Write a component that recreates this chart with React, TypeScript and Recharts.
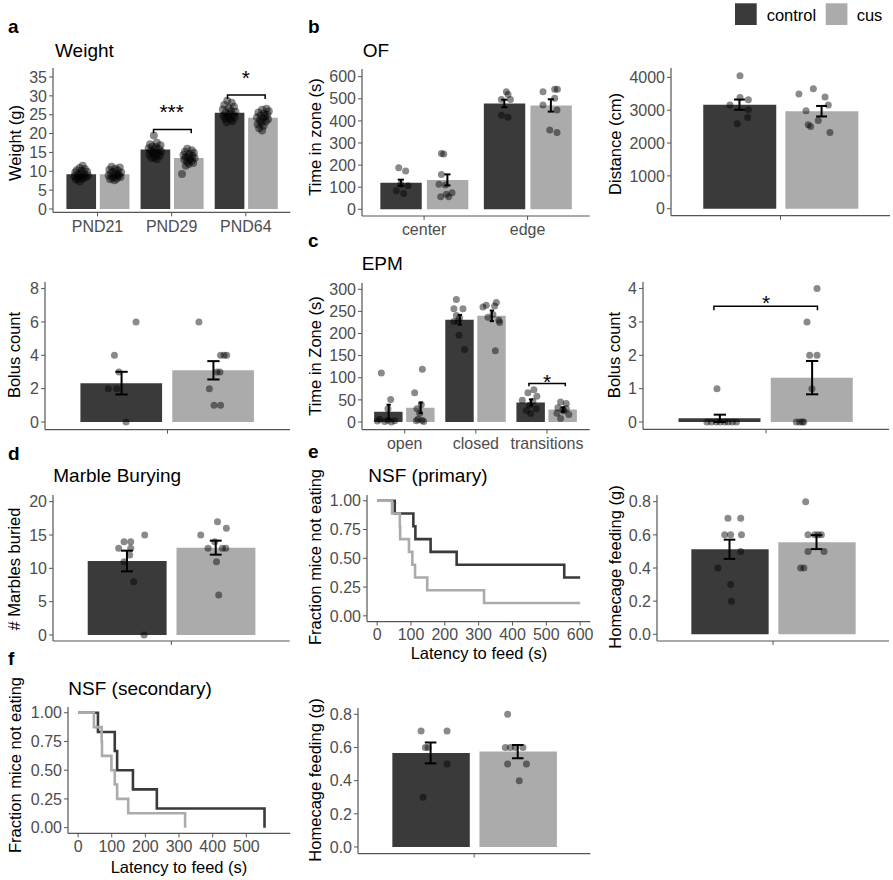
import React from "react";
import { ComposedChart, LineChart, Bar, Scatter, Line, XAxis, YAxis, ErrorBar } from "recharts";

const FONT = "'Liberation Sans', Arial, Helvetica, sans-serif";
const DARK = "#3a3a3a";
const LIGHT = "#ababab";
const AX = "#555555";
const TXT = "#4d4d4d";
const TICK_FS = 16;

type Pt = [number, number];

// a: weight
const weightCats = ["PND21", "PND29", "PND64"];
const weightCtrl = [9.2, 15.8, 25.5];
const weightCus = [9.2, 13.5, 24.2];
const weightTicks = [0, 5, 10, 15, 20, 25, 30, 35];
const weightCtrlDots: Pt[] = [
  [0.8, 11.5], [0.76, 10.9], [0.83, 10.6], [0.72, 10.3], [0.79, 10.1], [0.86, 9.9], [0.7, 9.7], [0.77, 9.5], [0.82, 9.3],
  [0.74, 9.1], [0.87, 8.9], [0.69, 8.7], [0.78, 8.6], [0.84, 8.4], [0.73, 8.2], [0.8, 8.0], [0.71, 7.8], [0.76, 7.3],
  [1.76, 19.5], [1.8, 17.6], [1.71, 17.2], [1.85, 16.9], [1.74, 16.6], [1.79, 16.4], [1.69, 16.1], [1.83, 15.9], [1.77, 15.7],
  [1.72, 15.4], [1.86, 15.2], [1.75, 15.0], [1.81, 14.7], [1.7, 14.4], [1.84, 14.1], [1.77, 13.8], [1.73, 13.5], [1.8, 13.2],
  [2.75, 28.7], [2.81, 28.2], [2.71, 27.6], [2.84, 27.1], [2.77, 26.7], [2.69, 26.4], [2.8, 26.1], [2.86, 25.8], [2.73, 25.6],
  [2.78, 25.3], [2.83, 25.0], [2.7, 24.8], [2.76, 24.6], [2.85, 24.3], [2.72, 24.0], [2.79, 23.7], [2.82, 23.3], [2.74, 23.0],
];
const weightCusDots: Pt[] = [
  [1.19, 11.2], [1.3, 11.0], [1.24, 10.7], [1.16, 10.4], [1.27, 10.2], [1.21, 9.9], [1.32, 9.7], [1.18, 9.5], [1.25, 9.3],
  [1.29, 9.1], [1.15, 8.9], [1.22, 8.7], [1.31, 8.5], [1.2, 8.3], [1.26, 8.1], [1.17, 7.9], [1.23, 7.6], [1.28, 8.8],
  [2.21, 16.0], [2.27, 15.6], [2.18, 15.2], [2.3, 14.9], [2.24, 14.6], [2.16, 14.3], [2.28, 14.1], [2.22, 13.9], [2.19, 13.7],
  [2.31, 13.5], [2.25, 13.3], [2.17, 13.1], [2.27, 12.8], [2.21, 12.5], [2.29, 12.2], [2.23, 11.9], [2.19, 11.5], [2.14, 9.3],
  [3.28, 26.6], [3.22, 26.3], [3.31, 25.9], [3.17, 25.6], [3.25, 25.3], [3.29, 25.0], [3.2, 24.8], [3.26, 24.5], [3.15, 24.3],
  [3.23, 24.1], [3.3, 23.8], [3.19, 23.5], [3.27, 23.2], [3.21, 22.9], [3.16, 22.5], [3.24, 22.1], [3.18, 21.4], [3.22, 20.8],
];

// a (lower): bolus count, open field
const bolusOfCtrl = [2.33];
const bolusOfCus = [3.1];
const bolusOfCtrlSE = [0.68];
const bolusOfCusSE = [0.55];
const bolusOfCtrlDots: Pt[] = [[0.846, 6], [0.74, 4], [0.762, 3], [0.71, 2], [0.751, 2], [0.797, 0]];
const bolusOfCusDots: Pt[] = [[1.154, 6], [1.26, 4], [1.29, 4], [1.277, 4], [1.242, 3], [1.257, 3], [1.205, 2], [1.228, 1], [1.26, 1]];

// b: open field
const ofCats = ["center", "edge"];
const ofCtrl = [120, 479];
const ofCus = [133, 470];
const ofCtrlSE = [14, 17];
const ofCusSE = [25, 28];
const ofCtrlDots: Pt[] = [
  [0.755, 188], [0.822, 173], [0.774, 113], [0.845, 107], [0.732, 84], [0.803, 72],
  [1.795, 532], [1.811, 520], [1.747, 497], [1.834, 497], [1.747, 426], [1.811, 416],
];
const ofCusDots: Pt[] = [
  [1.167, 253], [1.19, 250], [1.167, 158], [1.144, 113], [1.206, 110], [1.27, 75], [1.215, 68], [1.16, 57], [1.238, 57],
  [2.149, 532], [2.262, 543], [2.288, 543], [2.262, 502], [2.149, 472], [2.284, 449], [2.214, 359], [2.284, 348],
];
const distCtrl = [3170];
const distCus = [2970];
const distCtrlSE = [155];
const distCusSE = [160];
const distCtrlDots: Pt[] = [[0.778, 4051], [0.778, 3390], [0.824, 3320], [0.723, 3158], [0.824, 3015], [0.82, 2781], [0.763, 2589]];
const distCusDots: Pt[] = [
  [1.18, 3655], [1.101, 3493], [1.244, 3402], [1.262, 3158], [1.14, 2985], [1.152, 2558], [1.165, 2507], [1.207, 2690], [1.271, 2324],
];

// c: elevated plus maze
const epmCats = ["open", "closed", "transitions"];
const epmCtrl = [23, 231, 44];
const epmCus = [32, 240, 28];
const epmCtrlSE = [16, 11, 7];
const epmCusSE = [12, 12, 5];
const epmCtrlDots: Pt[] = [
  [0.672, 111], [0.803, 51], [0.765, 30], [0.649, 6], [0.765, 4], [0.859, 3], [0.616, 2], [0.719, 1], [0.813, 0],
  [1.726, 277], [1.692, 256], [1.819, 256], [1.726, 241], [1.772, 235], [1.749, 228], [1.692, 227], [1.763, 196], [1.842, 164],
  [2.816, 73], [2.732, 66], [2.858, 58], [2.653, 49], [2.802, 47], [2.755, 38], [2.849, 30], [2.709, 26], [2.77, 19],
];
const epmCusDots: Pt[] = [
  [1.248, 119], [1.14, 66], [1.234, 39], [1.172, 30], [1.21, 20], [1.187, 6], [1.243, 4], [1.164, 3], [1.267, 1],
  [2.147, 264], [2.288, 270], [2.264, 262], [2.1, 260], [2.24, 243], [2.17, 237], [2.324, 230], [2.334, 225], [2.274, 161],
  [3.191, 45], [3.271, 42], [3.153, 32], [3.271, 30], [3.223, 28], [3.237, 25], [3.139, 20], [3.307, 17], [3.191, 8],
];
const epmBolusCtrl = [0.11];
const epmBolusCus = [1.33];
const epmBolusCtrlSE = [0.11];
const epmBolusCusSE = [0.5];
const epmBolusCtrlDots: Pt[] = [[0.761, 1], [0.712, 0], [0.734, 0], [0.758, 0], [0.777, 0], [0.799, 0], [0.816, 0], [0.836, 0], [0.856, 0]];
const epmBolusCusDots: Pt[] = [[1.249, 4], [1.2, 3], [1.213, 2], [1.249, 2], [1.224, 1], [1.148, 0], [1.164, 0], [1.177, 0], [1.184, 0]];

// d: marble burying
const marbleCtrl = [11.1];
const marbleCus = [13.1];
const marbleCtrlSE = [1.55];
const marbleCusSE = [1.05];
const marbleCtrlDots: Pt[] = [[0.865, 15], [0.76, 14], [0.794, 14], [0.733, 13], [0.794, 13], [0.789, 12], [0.76, 11], [0.809, 8], [0.862, 0]];
const marbleCusDots: Pt[] = [[1.234, 17], [1.279, 16], [1.149, 15], [1.22, 14], [1.186, 13], [1.259, 13], [1.276, 13], [1.229, 11], [1.24, 6]];

// e / f: novelty suppressed feeding
const nsf1CtrlTime = [0, 52, 107, 113, 158, 235, 553, 600];
const nsf1CtrlSurv = [1, 0.889, 0.778, 0.667, 0.556, 0.444, 0.333, 0.333];
const nsf1CusTime = [0, 44, 67, 68, 94, 104, 112, 148, 316, 600];
const nsf1CusSurv = [1, 0.889, 0.778, 0.667, 0.556, 0.444, 0.333, 0.222, 0.111, 0.111];
const nsf2CtrlTime = [0, 59, 109, 116, 163, 234, 554];
const nsf2CtrlSurv = [1, 0.833, 0.667, 0.5, 0.333, 0.167, 0];
const nsf2CusTime = [0, 47, 70, 71, 99, 109, 116, 149, 318];
const nsf2CusSurv = [1, 0.875, 0.75, 0.625, 0.5, 0.375, 0.25, 0.125, 0];

const feed1Ctrl = [0.513];
const feed1Cus = [0.556];
const feed1CtrlSE = [0.058];
const feed1CusSE = [0.042];
const feed1CtrlDots: Pt[] = [[0.767, 0.7], [0.833, 0.7], [0.75, 0.6], [0.781, 0.6], [0.837, 0.6], [0.833, 0.5], [0.715, 0.4], [0.781, 0.3], [0.785, 0.2]];
const feed1CusDots: Pt[] = [[1.169, 0.8], [1.181, 0.6], [1.216, 0.6], [1.233, 0.6], [1.25, 0.6], [1.181, 0.5], [1.264, 0.5], [1.143, 0.4], [1.16, 0.4]];
const feed2Ctrl = [0.567];
const feed2Cus = [0.575];
const feed2CtrlSE = [0.063];
const feed2CusSE = [0.04];
const feed2CtrlDots: Pt[] = [[0.726, 0.7], [0.86, 0.7], [0.748, 0.6], [0.762, 0.6], [0.86, 0.5], [0.736, 0.3]];
const feed2CusDots: Pt[] = [[1.173, 0.8], [1.161, 0.6], [1.187, 0.6], [1.213, 0.6], [1.252, 0.6], [1.173, 0.5], [1.27, 0.5], [1.233, 0.4]];

interface Br { x1: number; x2: number; y: number; drop: number; label: string; lx: number; ly: number }

const YW = 60, MT = 10, MR = 10, XH = 34;

interface BarProps {
  left: number; top: number; width: number; height: number;
  domain: [number, number]; ticks: number[]; fmt?: (v: number) => string;
  cats: string[]; ctrl: number[]; cus: number[]; ctrlSE?: number[]; cusSE?: number[];
  ctrlDots: Pt[]; cusDots: Pt[]; brackets?: Br[]; r?: number;
}

const axisProps = {
  tickSize: 4,
  axisLine: { stroke: AX, strokeWidth: 1.2 },
  tickLine: { stroke: AX, strokeWidth: 1 },
  tick: { fontSize: TICK_FS, fill: TXT },
  interval: 0 as const,
};

function BarPanel(p: BarProps) {
  const n = p.cats.length;
  const unit = p.width / (n + 0.2);
  const data = p.cats.map((c, i) => ({ cat: c, ctrl: p.ctrl[i], cus: p.cus[i] }));
  const pts = (d: Pt[]) => d.map(([x, y]) => ({ x, y }));
  const errs: { x: number; y: number; e: number }[] = [];
  if (p.ctrlSE) p.ctrl.forEach((m, i) => errs.push({ x: i + 0.775, y: m, e: p.ctrlSE![i] }));
  if (p.cusSE) p.cus.forEach((m, i) => errs.push({ x: i + 1.225, y: m, e: p.cusSE![i] }));
  const rad = p.r ?? 3.5;
  const dot = (s: any) => <circle cx={s.cx} cy={s.cy} r={rad} fill="#000" fillOpacity={0.46} />;
  const star = (s: any) => (
    <text x={s.cx} y={s.cy + 12} textAnchor="middle" fontSize={21} fill="#000">{s.payload.t}</text>
  );
  return (
    <div style={{ position: "absolute", left: p.left - YW, top: p.top - MT }}>
      <ComposedChart width={p.width + YW + MR} height={p.height + MT + XH} data={data}
        margin={{ top: MT, right: MR, bottom: 0, left: 0 }} barGap={0.05 * unit}>
        <XAxis xAxisId="c" dataKey="cat" type="category" height={XH} tickMargin={4}
          padding={{ left: 0.1 * unit, right: 0.1 * unit }} {...axisProps} />
        <XAxis xAxisId="n" type="number" dataKey="x" domain={[0.4, n + 0.6]} allowDataOverflow hide />
        <YAxis type="number" domain={p.domain} ticks={p.ticks} allowDataOverflow width={YW} tickMargin={2}
          tickFormatter={p.fmt} {...axisProps} />
        <Bar xAxisId="c" dataKey="ctrl" fill={DARK} barSize={0.4 * unit} isAnimationActive={false} />
        <Bar xAxisId="c" dataKey="cus" fill={LIGHT} barSize={0.4 * unit} isAnimationActive={false} />
        <Scatter xAxisId="n" data={pts(p.ctrlDots)} dataKey="y" shape={dot} isAnimationActive={false} />
        <Scatter xAxisId="n" data={pts(p.cusDots)} dataKey="y" shape={dot} isAnimationActive={false} />
        {errs.length > 0 && (
          <Scatter xAxisId="n" data={errs} dataKey="y" shape={() => <g />} isAnimationActive={false}>
            <ErrorBar dataKey="e" direction="y" width={0.03 * unit} stroke="#000" strokeWidth={2} />
          </Scatter>
        )}
        {(p.brackets ?? []).map((b, i) => (
          <Line key={"b" + i} xAxisId="n" type="linear" dataKey="y" stroke="#000" strokeWidth={1.5} dot={false}
            isAnimationActive={false}
            data={[{ x: b.x1, y: b.y - b.drop }, { x: b.x1, y: b.y }, { x: b.x2, y: b.y }, { x: b.x2, y: b.y - b.drop }]} />
        ))}
        {(p.brackets ?? []).map((b, i) => (
          <Scatter key={"s" + i} xAxisId="n" data={[{ x: b.lx, y: b.ly, t: b.label }]} dataKey="y" shape={star}
            isAnimationActive={false} />
        ))}
      </ComposedChart>
    </div>
  );
}

interface KMProps {
  left: number; top: number; width: number; height: number;
  ctrlT: number[]; ctrlS: number[]; cusT: number[]; cusS: number[]; xTicks: number[];
}

function KMPanel(p: KMProps) {
  const ctrl = p.ctrlT.map((t, i) => ({ t, s: p.ctrlS[i] }));
  const cus = p.cusT.map((t, i) => ({ t, s: p.cusS[i] }));
  return (
    <div style={{ position: "absolute", left: p.left - YW, top: p.top - MT }}>
      <LineChart width={p.width + YW + MR} height={p.height + MT + XH} margin={{ top: MT, right: MR, bottom: 0, left: 0 }}>
        <XAxis type="number" dataKey="t" domain={[-30, 630]} ticks={p.xTicks} allowDataOverflow height={XH}
          tickMargin={3} {...axisProps} />
        <YAxis type="number" domain={[-0.05, 1.05]} ticks={[0, 0.25, 0.5, 0.75, 1]} allowDataOverflow width={YW}
          tickMargin={2} tickFormatter={(v: number) => v.toFixed(2)} {...axisProps} />
        <Line data={ctrl} dataKey="s" type="stepAfter" stroke={DARK} strokeWidth={2.6} dot={false} isAnimationActive={false} />
        <Line data={cus} dataKey="s" type="stepAfter" stroke={LIGHT} strokeWidth={2.6} dot={false} isAnimationActive={false} />
      </LineChart>
    </div>
  );
}

const f1 = (v: number) => v.toFixed(1);

function Labels() {
  const letter = (x: number, y: number, s: string) => (
    <text x={x} y={y} fontSize={19} fontWeight="bold" fill="#000">{s}</text>
  );
  const title = (x: number, y: number, s: string) => (
    <text x={x} y={y} fontSize={19} fill="#000">{s}</text>
  );
  const ylab = (x: number, y: number, s: string) => (
    <text x={x} y={y} fontSize={16.5} fill="#000" textAnchor="middle" transform={`rotate(-90 ${x} ${y})`}>{s}</text>
  );
  const xlab = (x: number, y: number, s: string) => (
    <text x={x} y={y} fontSize={16.5} fill="#000" textAnchor="middle">{s}</text>
  );
  return (
    <svg width={893} height={880} style={{ position: "absolute", left: 0, top: 0, pointerEvents: "none" }}>
      {letter(8, 33, "a")}
      {letter(308, 33, "b")}
      {letter(308, 247, "c")}
      {letter(8, 460, "d")}
      {letter(308, 458, "e")}
      {letter(8, 665, "f")}
      {title(55, 57, "Weight")}
      {title(362.7, 57, "OF")}
      {title(361.7, 270, "EPM")}
      {title(53.3, 482, "Marble Burying")}
      {title(368.3, 482, "NSF (primary)")}
      {title(68.3, 695, "NSF (secondary)")}
      {ylab(20.7, 143, "Weight (g)")}
      {ylab(20, 355, "Bolus count")}
      {ylab(320.7, 137, "Time in zone (s)")}
      {ylab(620.7, 144, "Distance (cm)")}
      {ylab(320.7, 356, "Time in Zone (s)")}
      {ylab(620, 355, "Bolus count")}
      {ylab(20, 569, "# Marbles buried")}
      {ylab(320.7, 557, "Fraction mice not eating")}
      {ylab(620.7, 567, "Homecage feeding (g)")}
      {ylab(20.7, 765, "Fraction mice not eating")}
      {ylab(320.7, 780, "Homecage feeding (g)")}
      {xlab(479, 659, "Latency to feed (s)")}
      {xlab(179, 873, "Latency to feed (s)")}
      <rect x={735} y={3.3} width={21.7} height={21.7} fill={DARK} />
      <text x={766.7} y={21} fontSize={16.5} fill="#000">control</text>
      <rect x={825.7} y={3.3} width={21.7} height={21.7} fill={LIGHT} />
      <text x={856.7} y={21} fontSize={16.5} fill="#000">cus</text>
    </svg>
  );
}

export default function App() {
  return (
    <div style={{ position: "relative", width: 893, height: 880, background: "#fff", fontFamily: FONT, overflow: "hidden" }}>
      <style>{"body{margin:0}"}</style>
      <BarPanel left={52.7} top={68} width={237.3} height={144.3} domain={[-0.875, 37.39]} ticks={weightTicks}
        cats={weightCats} ctrl={weightCtrl} cus={weightCus} ctrlDots={weightCtrlDots} cusDots={weightCusDots} r={4}
        brackets={[
          { x1: 1.756, x2: 2.264, y: 21.1, drop: 1.0, label: "***", lx: 2.0, ly: 27 },
          { x1: 2.753, x2: 3.261, y: 30.2, drop: 1.0, label: "*", lx: 3.0, ly: 36 },
        ]} />
      <BarPanel left={45} top={281.7} width={245} height={147.6} domain={[-0.456, 8.396]} ticks={[0, 2, 4, 6, 8]}
        cats={[""]} ctrl={bolusOfCtrl} cus={bolusOfCus} ctrlSE={bolusOfCtrlSE} cusSE={bolusOfCusSE}
        ctrlDots={bolusOfCtrlDots} cusDots={bolusOfCusDots} />
      <BarPanel left={362.3} top={69} width={227.7} height={147} domain={[-30.3, 634.8]} ticks={[0, 100, 200, 300, 400, 500, 600]}
        cats={ofCats} ctrl={ofCtrl} cus={ofCus} ctrlSE={ofCtrlSE} cusSE={ofCusSE} ctrlDots={ofCtrlDots} cusDots={ofCusDots} />
      <BarPanel left={671} top={68.3} width={219} height={147.7} domain={[-213, 4286]} ticks={[0, 1000, 2000, 3000, 4000]}
        cats={[""]} ctrl={distCtrl} cus={distCus} ctrlSE={distCtrlSE} cusSE={distCusSE} ctrlDots={distCtrlDots} cusDots={distCusDots} />
      <BarPanel left={362.3} top={282.7} width={227.7} height={146.6} domain={[-17.2, 314.2]} ticks={[0, 50, 100, 150, 200, 250, 300]}
        cats={epmCats} ctrl={epmCtrl} cus={epmCus} ctrlSE={epmCtrlSE} cusSE={epmCusSE} ctrlDots={epmCtrlDots} cusDots={epmCusDots}
        brackets={[{ x1: 2.746, x2: 3.257, y: 87, drop: 6.2, label: "*", lx: 3.0, ly: 102 }]} />
      <BarPanel left={643.3} top={281.7} width={246} height={147.3} domain={[-0.219, 4.198]} ticks={[0, 1, 2, 3, 4]}
        cats={[""]} ctrl={epmBolusCtrl} cus={epmBolusCus} ctrlSE={epmBolusCtrlSE} cusSE={epmBolusCusSE}
        ctrlDots={epmBolusCtrlDots} cusDots={epmBolusCusDots}
        brackets={[{ x1: 0.746, x2: 1.251, y: 3.47, drop: 0.12, label: "*", lx: 1.0, ly: 3.73 }]} />
      <BarPanel left={53.3} top={495} width={236.7} height={146} domain={[-0.9, 21]} ticks={[0, 5, 10, 15, 20]}
        cats={[""]} ctrl={marbleCtrl} cus={marbleCus} ctrlSE={marbleCtrlSE} cusSE={marbleCusSE}
        ctrlDots={marbleCtrlDots} cusDots={marbleCusDots} />
      <KMPanel left={366.7} top={494.9} width={223.3} height={126.6} ctrlT={nsf1CtrlTime} ctrlS={nsf1CtrlSurv}
        cusT={nsf1CusTime} cusS={nsf1CusSurv} xTicks={[0, 100, 200, 300, 400, 500, 600]} />
      <BarPanel left={657.3} top={495} width={232} height={146} domain={[-0.0404, 0.8404]} ticks={[0, 0.2, 0.4, 0.6, 0.8]} fmt={f1}
        cats={[""]} ctrl={feed1Ctrl} cus={feed1Cus} ctrlSE={feed1CtrlSE} cusSE={feed1CusSE}
        ctrlDots={feed1CtrlDots} cusDots={feed1CusDots} />
      <KMPanel left={67.9} top={707} width={222.1} height={126.4} ctrlT={nsf2CtrlTime} ctrlS={nsf2CtrlSurv}
        cusT={nsf2CusTime} cusS={nsf2CusSurv} xTicks={[0, 100, 200, 300, 400, 500]} />
      <BarPanel left={357.7} top={707.7} width={232.3} height={145.6} domain={[-0.0398, 0.838]} ticks={[0, 0.2, 0.4, 0.6, 0.8]} fmt={f1}
        cats={[""]} ctrl={feed2Ctrl} cus={feed2Cus} ctrlSE={feed2CtrlSE} cusSE={feed2CusSE}
        ctrlDots={feed2CtrlDots} cusDots={feed2CusDots} />
      <Labels />
    </div>
  );
}
